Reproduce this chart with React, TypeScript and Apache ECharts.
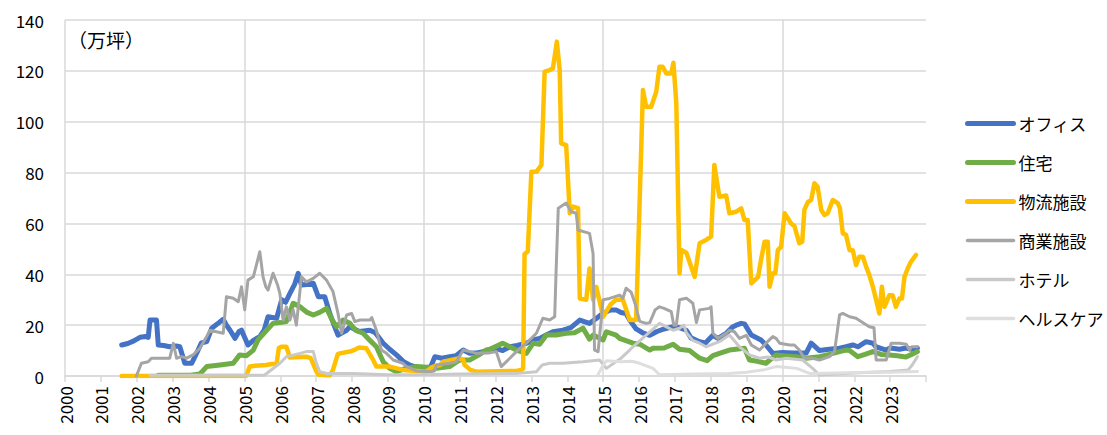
import { useEffect, useRef } from 'react';
import * as echarts from 'echarts';

// [decimal year, 万坪]
const office: [number, number][] = [
  [2001.58,12.2],[2001.75,12.8],[2001.92,13.8],[2002.09,15.2],[2002.25,15.5],[2002.32,15.2],[2002.37,22],[2002.55,22],[2002.6,12.2],[2002.75,12],[2002.92,11.5],[2003.1,11.8],[2003.2,11.5],[2003.34,5],[2003.53,5],[2003.71,10.2],[2003.8,13],[2003.95,13.5],[2004.09,18.8],[2004.25,20.5],[2004.41,22.3],[2004.5,20],[2004.6,18],[2004.74,14.8],[2004.85,17.5],[2004.92,18],[2005.1,12.2],[2005.25,14],[2005.43,15.5],[2005.55,18],[2005.66,23.3],[2005.9,22.7],[2006.04,30],[2006.15,29],[2006.27,32.5],[2006.4,36],[2006.5,40.4],[2006.59,35.8],[2006.75,36],[2006.92,36.5],[2007.06,31.2],[2007.24,31.2],[2007.38,24.6],[2007.5,20],[2007.61,16.1],[2007.85,18],[2007.94,19.4],[2008.2,17.5],[2008.5,18],[2008.65,17],[2008.87,12.9],[2009.05,10.5],[2009.24,8.3],[2009.45,5.5],[2009.61,4.3],[2009.8,3.5],[2009.98,3],[2010.2,3.8],[2010.31,7.6],[2010.5,7],[2010.72,7.6],[2010.9,8],[2011.1,10.2],[2011.28,8.9],[2011.45,9],[2011.65,9.6],[2011.85,10],[2012.02,10.9],[2012.2,10],[2012.4,11.5],[2012.6,12],[2012.86,12.9],[2013.05,14.2],[2013.23,14.8],[2013.4,16],[2013.6,17.4],[2013.88,18],[2014.1,19],[2014.35,22],[2014.62,20.7],[2014.8,22.5],[2014.99,24.6],[2015.2,26],[2015.36,26],[2015.5,25],[2015.64,24.6],[2015.74,22],[2015.92,18.5],[2016.1,17],[2016.3,16],[2016.5,17.5],[2016.7,18.5],[2016.95,19.4],[2017.13,19],[2017.32,18],[2017.45,15],[2017.69,13.5],[2017.85,13],[2018.06,16],[2018.2,14.8],[2018.43,16.8],[2018.62,19.4],[2018.71,20],[2018.85,20.7],[2018.94,20.5],[2019.13,16.1],[2019.4,14.2],[2019.55,12],[2019.73,8.9],[2020,9.2],[2020.3,9],[2020.66,9],[2020.8,12.9],[2021.03,10],[2021.3,10.5],[2021.59,10.9],[2021.77,11.5],[2021.96,12.2],[2022.1,11.5],[2022.33,13.5],[2022.52,12.9],[2022.6,11.5],[2022.89,10.2],[2023.0,11],[2023.26,10.5],[2023.44,11],[2023.6,10.5],[2023.76,11]
];

const housing: [number, number][] = [
  [2002.6,0.3],[2003.5,0.3],[2003.76,0.8],[2003.95,3.7],[2004.32,4.3],[2004.69,5],[2004.87,8.3],[2005.06,8],[2005.25,10.2],[2005.38,14.2],[2005.62,18],[2005.8,20.7],[2006.0,21],[2006.17,21.4],[2006.36,28.6],[2006.55,27.2],[2006.75,25],[2006.92,24],[2007.1,25],[2007.29,26.6],[2007.45,22],[2007.57,19.4],[2007.75,22],[2007.94,20.7],[2008.1,18],[2008.31,16.8],[2008.5,14],[2008.68,11.5],[2008.87,5.6],[2009.05,3],[2009.24,1.7],[2009.5,3],[2009.8,3.7],[2010.0,3.5],[2010.35,3],[2010.72,3.7],[2011.0,6.3],[2011.28,6.3],[2011.5,8],[2011.74,10.2],[2011.84,10.5],[2012.2,12.9],[2012.4,11.5],[2012.58,10.2],[2012.86,8.9],[2013.05,12.9],[2013.23,12.5],[2013.42,16.1],[2013.69,16.1],[2013.97,16.8],[2014.2,17],[2014.44,18.8],[2014.62,14.5],[2014.72,16.1],[2015.0,14.2],[2015.09,17.4],[2015.36,16.1],[2015.46,14.8],[2015.83,12.9],[2016.02,12.5],[2016.3,10.2],[2016.39,10.9],[2016.7,11],[2016.95,12.5],[2017.13,10.5],[2017.41,10],[2017.55,8.5],[2017.69,7],[2017.9,6],[2018.06,8],[2018.24,8.9],[2018.52,10.2],[2018.7,10.5],[2018.94,10.9],[2019.08,6.3],[2019.3,5.8],[2019.54,5],[2019.82,8.3],[2020.0,8],[2020.38,7.6],[2020.66,7],[2021.03,7.6],[2021.3,8.5],[2021.59,9.6],[2021.77,10.2],[2021.87,10],[2022.1,7.6],[2022.3,8.5],[2022.52,9.6],[2022.75,8.5],[2022.98,8.3],[2023.2,8],[2023.44,7.5],[2023.6,8.5],[2023.76,9.6]
];

const logistics: [number, number][] = [
  [2001.58,0],[2005.05,0],[2005.15,3.7],[2005.3,4],[2005.6,4.3],[2005.9,5],[2005.96,11],[2006.03,11.5],[2006.17,11.5],[2006.27,7.3],[2006.5,7.5],[2006.73,7.6],[2006.85,7],[2007.0,2],[2007.06,0.5],[2007.38,0.3],[2007.47,2.4],[2007.6,8.5],[2007.66,8.9],[2007.94,9.6],[2008.1,10.5],[2008.2,11.2],[2008.4,10.9],[2008.59,6.3],[2008.68,3.7],[2009.05,3.7],[2009.42,2.4],[2009.8,2],[2010.07,1.7],[2010.26,3.7],[2010.45,4.3],[2010.54,5.6],[2011.0,7],[2011.1,6.3],[2011.14,4.3],[2011.3,2.4],[2011.47,1.7],[2012.58,2],[2012.72,2.4],[2012.77,2.9],[2012.81,48],[2012.9,49],[2013.0,80.3],[2013.14,80.3],[2013.28,83],[2013.37,119.7],[2013.51,120.3],[2013.6,121],[2013.71,131.5],[2013.79,120.3],[2013.83,91.5],[2013.97,90.8],[2014.07,64],[2014.16,66.6],[2014.3,66],[2014.35,30.5],[2014.53,30],[2014.62,42.3],[2014.72,30],[2014.81,35],[2015.0,23.3],[2015.2,28],[2015.36,30],[2015.55,30],[2015.74,22],[2015.92,22],[2016.11,112.5],[2016.2,105.9],[2016.34,105.9],[2016.48,111.8],[2016.57,121.6],[2016.66,121.6],[2016.76,119],[2016.9,119],[2016.96,123.2],[2017.04,107.2],[2017.13,40.4],[2017.18,49.5],[2017.32,48.5],[2017.55,39],[2017.69,52.2],[2017.87,53.5],[2018.01,54.8],[2018.1,83],[2018.24,70.5],[2018.43,71],[2018.52,64],[2018.71,64.6],[2018.85,65.9],[2018.94,61.3],[2019.03,61.3],[2019.13,36.4],[2019.32,39],[2019.4,45.6],[2019.5,52.8],[2019.59,52.8],[2019.64,35.1],[2019.73,40.4],[2019.8,40.4],[2019.87,49.5],[2019.96,50.8],[2020.06,64],[2020.24,60],[2020.33,59],[2020.47,52.2],[2020.55,52.8],[2020.61,65.3],[2020.71,68.5],[2020.8,69.3],[2020.89,75.8],[2020.98,74.4],[2021.08,65.3],[2021.17,63.3],[2021.26,64],[2021.4,69.2],[2021.54,68],[2021.6,66],[2021.68,56.1],[2021.77,55.5],[2021.87,49.5],[2021.96,49.5],[2022.05,43.6],[2022.14,46.9],[2022.24,46.9],[2022.33,43],[2022.42,39.7],[2022.52,35.1],[2022.61,29.9],[2022.7,24.6],[2022.77,35.1],[2022.84,27.2],[2022.98,31.8],[2023.07,31.8],[2023.16,27.2],[2023.26,30.5],[2023.33,30.5],[2023.4,39],[2023.49,42.3],[2023.58,44.9],[2023.72,47.6]
];

const retail: [number, number][] = [
  [2001.99,0],[2002.13,5],[2002.32,5.6],[2002.41,7],[2002.92,7],[2003.02,12.9],[2003.11,7],[2003.25,7.6],[2003.39,7],[2003.57,8.3],[2003.76,10.9],[2003.95,15.5],[2004.04,18],[2004.22,17.4],[2004.41,16.8],[2004.5,31.2],[2004.69,30.6],[2004.83,29.2],[2004.92,35.1],[2005.01,26],[2005.1,37.7],[2005.25,39],[2005.43,48.9],[2005.52,39],[2005.6,35],[2005.66,33.8],[2005.8,40.4],[2005.92,36],[2005.99,32.5],[2006.08,22],[2006.17,27.2],[2006.27,22],[2006.36,26],[2006.45,20],[2006.59,39],[2006.73,37],[2006.92,38.4],[2007.1,40.4],[2007.29,37.7],[2007.47,33.2],[2007.61,24.6],[2007.71,16.8],[2007.85,24],[2007.99,24.6],[2008.08,21.4],[2008.22,22],[2008.5,22],[2008.55,23],[2008.68,18],[2008.82,10.2],[2008.96,8.9],[2009.15,6.3],[2009.42,5],[2009.52,3.7],[2009.8,2],[2010.17,1.7],[2010.3,2],[2010.35,4.3],[2010.72,5],[2010.91,5.6],[2011.1,10.2],[2011.28,9.6],[2011.47,8.9],[2011.8,9],[2012.02,9.6],[2012.16,3.7],[2012.4,7],[2012.58,9.6],[2012.86,12.9],[2013.14,16.8],[2013.32,22.7],[2013.51,22],[2013.65,23.3],[2013.69,41.7],[2013.75,66],[2013.97,68],[2014.11,64.6],[2014.25,64],[2014.3,57.4],[2014.62,56.1],[2014.72,48.2],[2014.76,10.2],[2014.86,9.6],[2015.0,30],[2015.18,30.5],[2015.46,31.8],[2015.55,30.5],[2015.64,34.5],[2015.78,33],[2015.9,28],[2016.02,21.5],[2016.2,20.7],[2016.3,21],[2016.45,26],[2016.57,27.2],[2016.7,26.6],[2016.9,25.3],[2016.97,20],[2017.04,20],[2017.13,30],[2017.32,30.6],[2017.5,28.6],[2017.6,21],[2017.69,26],[2017.96,26.6],[2018.01,27.2],[2018.06,16.8],[2018.2,14.8],[2018.43,16.8],[2018.52,18],[2018.66,17.4],[2018.8,14.8],[2018.99,16],[2019.13,12.2],[2019.36,10.2],[2019.54,12.9],[2019.73,15.5],[2019.82,14.8],[2019.92,12.9],[2020.2,12.2],[2020.33,12.2],[2020.47,10.2],[2020.61,7],[2020.84,7],[2021.03,6.3],[2021.31,7.6],[2021.45,9.6],[2021.59,24],[2021.68,24.6],[2021.87,23.3],[2022.05,22.7],[2022.19,21.4],[2022.42,19.4],[2022.55,19],[2022.61,6.3],[2022.89,6.3],[2023.03,12.9],[2023.26,12.9],[2023.45,12.5],[2023.54,10.2],[2023.6,11.5],[2023.76,11.5]
];

const hotel: [number, number][] = [
  [2002.37,0.3],[2005.55,0.3],[2005.62,1],[2005.99,5],[2006.17,7.6],[2006.55,8.9],[2006.73,9.6],[2006.92,9.6],[2007.01,5],[2007.1,1.7],[2007.3,1],[2008.03,1],[2009.0,0.5],[2010.0,0.5],[2011.0,0.8],[2012.58,1],[2013.14,1.7],[2013.3,4.3],[2013.51,5],[2013.88,5],[2014.44,5.6],[2014.9,6.3],[2015.09,3],[2015.5,7],[2015.74,10.2],[2015.83,11.5],[2016.2,16.1],[2016.57,20.7],[2016.75,19.4],[2016.95,18],[2017.13,18.8],[2017.25,20],[2017.32,17],[2017.5,14],[2017.69,12.9],[2017.87,11.5],[2018.24,13.5],[2018.52,16.1],[2018.8,11.5],[2019.08,8.3],[2019.36,7],[2019.6,7.5],[2019.82,6.3],[2020.1,7],[2020.56,6.3],[2020.84,3],[2021.03,0.4],[2021.5,0.8],[2022.0,1.2],[2022.5,1.5],[2023.0,1.8],[2023.5,2.4],[2023.6,4],[2023.76,7.6]
];

const healthcare: [number, number][] = [
  [2014.85,0.3],[2014.95,3],[2015.09,6],[2015.5,5.6],[2015.8,5.8],[2016.02,5],[2016.39,3],[2016.57,0.5],[2017.5,0.8],[2018.5,1],[2019.0,1.5],[2019.5,2.5],[2019.82,3.7],[2020.0,3.5],[2020.4,3],[2020.75,1],[2021.5,1.2],[2022.5,1.5],[2023.0,1.5],[2023.76,1.8]
];

const seriesNames = ['オフィス', '住宅', '物流施設', '商業施設', 'ホテル', 'ヘルスケア'];
const seriesData = [office, housing, logistics, retail, hotel, healthcare];
const seriesColors = ['#4472C4', '#70AD47', '#FFC000', '#A5A5A5', '#C9C9C9', '#DEDEDE'];
const seriesWidths = [5, 5, 4.5, 3, 3, 3];
const legendWidths = [5, 5, 5, 3.5, 3.5, 3.5];

const unitLabel = '（万坪）';
const FONT = '"Noto Sans CJK JP", "Noto Sans", sans-serif';

export default function App() {
  const ref = useRef<HTMLDivElement>(null);
  useEffect(() => {
    const chart = echarts.init(ref.current!, null, { renderer: 'svg' });
    chart.setOption({
      animation: false,
      textStyle: { fontFamily: FONT },
      grid: { left: 65, right: 181, top: 20, bottom: 59, containLabel: false },
      legend: {
        orient: 'vertical',
        left: 960,
        top: 110,
        itemWidth: 46,
        itemHeight: 14,
        itemGap: 22,
        data: seriesNames.map((name, i) => ({
          name,
          lineStyle: { width: legendWidths[i], color: seriesColors[i], cap: 'round' },
        })),
        itemStyle: { opacity: 0 },
        textStyle: { fontSize: 17, color: '#000', fontFamily: FONT },
      },
      graphic: [
        {
          type: 'text',
          left: 68,
          top: 30,
          style: { text: unitLabel, fontSize: 19, fill: '#000', fontFamily: FONT },
        },
      ],
      xAxis: [
        {
          type: 'value',
          min: 2000,
          max: 2024,
          interval: 1,
          axisLine: { show: true, lineStyle: { color: '#d9d9d9', width: 1.5 } },
          axisTick: { show: true, length: 6, lineStyle: { color: '#d9d9d9', width: 1.5 } },
          axisLabel: {
            rotate: 90,
            margin: 10,
            fontSize: 17,
            color: '#000',
            fontFamily: FONT,
            formatter: (v: number) => (v === 2024 ? '' : String(v)),
          },
          splitLine: { show: false },
        },
        {
          type: 'value',
          min: 2000,
          max: 2024,
          interval: 5,
          position: 'bottom',
          axisLine: { show: false },
          axisTick: { show: false },
          axisLabel: { show: false },
          splitLine: { show: true, showMaxLine: false, lineStyle: { color: '#d9d9d9', width: 1.5 } },
        },
      ],
      yAxis: {
        type: 'value',
        min: 0,
        max: 140,
        interval: 20,
        axisLine: { show: false },
        axisTick: { show: false },
        axisLabel: { fontSize: 17, color: '#000', margin: 21, fontFamily: FONT },
        splitLine: { show: true, lineStyle: { color: '#d9d9d9', width: 1.5 } },
      },
      series: seriesNames.map((name, i) => ({
        name,
        type: 'line',
        xAxisIndex: 0,
        data: seriesData[i],
        showSymbol: false,
        symbol: 'none',
        color: seriesColors[i],
        lineStyle: { color: seriesColors[i], width: seriesWidths[i], cap: 'round', join: 'round' },
        itemStyle: { color: seriesColors[i] },
      })),
    });
    return () => chart.dispose();
  }, []);
  return <div ref={ref} style={{ position: 'absolute', left: 0, top: 0, width: 1107, height: 435 }} />;
}
